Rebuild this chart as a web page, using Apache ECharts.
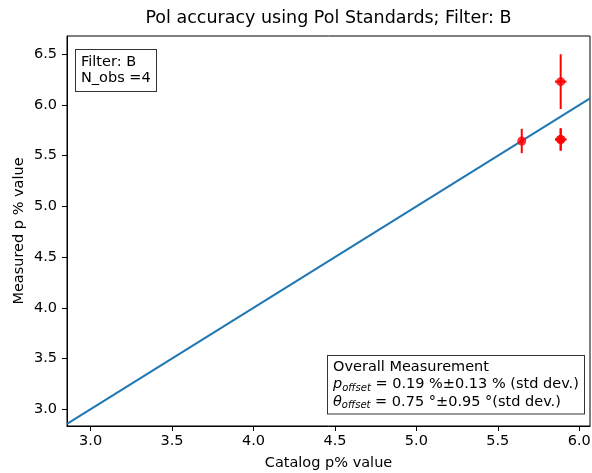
<!DOCTYPE html>
<html lang="en">
<head>
  <meta charset="UTF-8">
  <title>Pol accuracy using Pol Standards; Filter: B</title>
  <script src="https://cdn.jsdelivr.net/npm/echarts@6/dist/echarts.min.js"></script>
  <style>
    html, body { margin: 0; padding: 0; background: #fff; }
    #main { width: 592px; height: 473px; }
  </style>
</head>
<body>
  <div id="main"></div>

  <script>
    // measured points (catalog p%, measured p%, errors)
    const catalogP = [5.647, 5.886, 5.886, 5.886];
    const measuredP = [5.645, 6.23, 5.66, 5.66];
    const measuredErr = [0.12, 0.27, 0.11, 0.11];
    const catalogErr = [0.01, 0.035, 0.035, 0.035];

    // 1:1 reference line
    const oneToOne = [2.855, 6.066];

    const xTicks = [3.0, 3.5, 4.0, 4.5, 5.0, 5.5, 6.0];
    const yTicks = [3.0, 3.5, 4.0, 4.5, 5.0, 5.5, 6.0, 6.5];
    const xRange = [2.855, 6.066];
    const yRange = [2.835, 6.68];

    const font = 'DejaVu Sans';
    const fs = 14.5;
    const chart = echarts.init(document.getElementById('main'));

    const pts = catalogP.map((x, i) => [x, measuredP[i], measuredErr[i], catalogErr[i]]);

    const axisCommon = {
      type: 'value',
      axisLine: { show: true, lineStyle: { color: '#000', width: 1 } },
      axisTick: { show: true, length: 5, lineStyle: { color: '#000', width: 1 } },
      splitLine: { show: false },
      nameLocation: 'middle',
      nameMoveOverlap: false,
      nameTextStyle: { color: '#000', fontFamily: font, fontSize: fs }
    };

    const option = {
      animation: false,
      backgroundColor: '#fff',
      grid: {
        left: 67, right: 2, top: 36, bottom: 47,
        outerBoundsMode: 'none',
        containLabel: false,
        show: true, borderColor: '#000', borderWidth: 1
      },
      xAxis: Object.assign({}, axisCommon, {
        min: xRange[0], max: xRange[1],
        name: 'Catalog p% value',
        nameGap: 30,
        axisTick: Object.assign({}, axisCommon.axisTick, { customValues: xTicks }),
        axisLabel: {
          customValues: xTicks, margin: 8,
          color: '#000', fontFamily: font, fontSize: fs,
          formatter: v => v.toFixed(1)
        }
      }),
      yAxis: Object.assign({}, axisCommon, {
        min: yRange[0], max: yRange[1],
        name: 'Measured p % value',
        nameGap: 40,
        axisTick: Object.assign({}, axisCommon.axisTick, { customValues: yTicks }),
        axisLabel: {
          customValues: yTicks, margin: 10,
          color: '#000', fontFamily: font, fontSize: fs,
          formatter: v => v.toFixed(1)
        }
      }),
      series: [
        {
          name: '1:1',
          type: 'line',
          data: oneToOne.map(v => [v, v]),
          showSymbol: false,
          lineStyle: { color: '#1f77b4', width: 2 },
          z: 2
        },
        {
          name: 'errors',
          type: 'custom',
          data: pts,
          renderItem: function (params, api) {
            const x = api.value(0), y = api.value(1);
            const ey = api.value(2), ex = api.value(3);
            const top = api.coord([x, y + ey]);
            const bot = api.coord([x, y - ey]);
            const lft = api.coord([x - ex, y]);
            const rgt = api.coord([x + ex, y]);
            const style = { stroke: '#ff0000', lineWidth: 2 };
            return {
              type: 'group',
              children: [
                { type: 'line', shape: { x1: top[0], y1: top[1], x2: bot[0], y2: bot[1] }, style: style },
                { type: 'line', shape: { x1: lft[0], y1: lft[1], x2: rgt[0], y2: rgt[1] }, style: style }
              ]
            };
          },
          z: 3
        },
        {
          name: 'points',
          type: 'scatter',
          data: pts.map(p => [p[0], p[1]]),
          symbol: 'circle',
          symbolSize: 9,
          itemStyle: { color: '#ff0000' },
          z: 4
        }
      ],
      graphic: [
        {
          type: 'text',
          x: 328.5, y: 9,
          style: {
            text: 'Pol accuracy using Pol Standards; Filter: B',
            font: '17.5px "DejaVu Sans"',
            fill: '#000',
            align: 'center',
            verticalAlign: 'top'
          }
        },
        {
          type: 'text',
          left: 75, top: 49,
          z: 10,
          style: {
            text: 'Filter: B\nN_obs =4',
            font: fs + 'px "DejaVu Sans"',
            lineHeight: 16,
            fill: '#000',
            backgroundColor: '#fff',
            borderColor: '#333',
            borderWidth: 1,
            padding: [4, 4, 5, 5],
            width: 71
          }
        },
        {
          type: 'text',
          left: 327, top: 355,
          z: 10,
          style: {
            text: '{n|Overall Measurement}\n{i|p}{s|offset}{n| = 0.19 %±0.13 % (std dev.)}\n{i|θ}{s|offset}{n| = 0.75 °±0.95 °(std dev.)}',
            fill: '#000',
            backgroundColor: '#fff',
            borderColor: '#333',
            borderWidth: 1,
            padding: [2, 3, 3, 5],
            width: 248,
            rich: {
              n: { font: fs + 'px "DejaVu Sans"', lineHeight: 17.5, fill: '#000' },
              i: { font: 'italic ' + fs + 'px "DejaVu Sans"', lineHeight: 17.5, fill: '#000' },
              s: { font: 'italic 10px "DejaVu Sans"', lineHeight: 17.5, fill: '#000', verticalAlign: 'bottom', padding: [7, 0, 0, 0] }
            }
          }
        }
      ]
    };

    chart.setOption(option);
  </script>
</body>
</html>
